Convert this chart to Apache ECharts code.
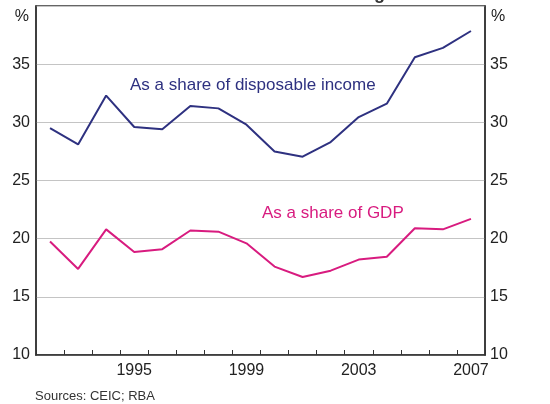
<!DOCTYPE html>
<html>
<head>
<meta charset="utf-8">
<script src="https://cdn.jsdelivr.net/npm/echarts@6/dist/echarts.min.js"></script>
<style>
  html, body { margin: 0; padding: 0; background: #fff; }
  #chart { width: 550px; height: 404px; }
</style>
</head>
<body>
<div id="chart"></div>
<script>
var years = ['1992', '1993', '1994', '1995', '1996', '1997', '1998', '1999',
             '2000', '2001', '2002', '2003', '2004', '2005', '2006', '2007'];
var shareOfIncome = [29.5, 28.1, 32.3, 29.6, 29.4, 31.4, 31.2, 29.8,
                     27.5, 27.05, 28.3, 30.45, 31.6, 35.6, 36.4, 37.85];
var shareOfGdp = [19.75, 17.4, 20.8, 18.85, 19.1, 20.7, 20.6, 19.6,
                  17.6, 16.7, 17.25, 18.2, 18.45, 20.9, 20.8, 21.7];
var yTicks = [10, 15, 20, 25, 30, 35];

var font = '"Liberation Sans", Arial, sans-serif';
var navy = '#2e3180';
var magenta = '#d81b7f';

var myChart = echarts.init(document.getElementById('chart'));

function yAxisFor(side) {
    return {
        type: 'value',
        position: side,
        min: 10,
        max: 40,
        interval: 5,
        axisLine: { show: true, lineStyle: { color: '#333', width: 1.5 } },
        axisTick: { show: false },
        splitLine: { show: side === 'left', lineStyle: { color: '#c4c4c4', width: 1 } },
        axisLabel: {
            color: '#222',
            fontFamily: font,
            fontSize: 16,
            margin: side === 'left' ? 6 : 5,
            formatter: function (v) {
                return yTicks.indexOf(v) >= 0 ? String(v) : '';
            }
        }
    };
}

var option = {
    animation: false,
    grid: {
        left: 36, right: 65, top: 6, bottom: 49,
        show: true,
        borderColor: '#333',
        borderWidth: 1.5
    },
    xAxis: {
        type: 'category',
        data: years,
        boundaryGap: true,
        axisLine: { show: true, lineStyle: { color: '#333', width: 1.5 } },
        axisTick: {
            show: true,
            inside: true,
            length: 5,
            interval: 0,
            lineStyle: { color: '#333', width: 1 }
        },
        axisLabel: {
            color: '#222',
            fontFamily: font,
            fontSize: 16,
            margin: 8,
            interval: function (idx) { return idx % 4 === 3; }
        },
        splitLine: { show: false }
    },
    yAxis: [yAxisFor('left'), yAxisFor('right')],
    series: [
        {
            name: 'As a share of disposable income',
            type: 'line',
            data: shareOfIncome,
            symbol: 'none',
            lineStyle: { color: navy, width: 2 }
        },
        {
            name: 'As a share of GDP',
            type: 'line',
            data: shareOfGdp,
            symbol: 'none',
            lineStyle: { color: magenta, width: 2 }
        }
    ],
    graphic: [
        { type: 'text', left: 374, top: -15,
          style: { text: 'g', fill: '#333', font: 'bold 18px ' + font } },
        { type: 'text', right: 521, top: 9,
          style: { text: '%', fill: '#222', font: '16px ' + font, textAlign: 'right' } },
        { type: 'text', left: 491, top: 9,
          style: { text: '%', fill: '#222', font: '16px ' + font } },
        { type: 'text', left: 130, top: 77,
          style: { text: 'As a share of disposable income', fill: navy, font: '17px ' + font } },
        { type: 'text', left: 262, top: 205,
          style: { text: 'As a share of GDP', fill: magenta, font: '17px ' + font } },
        { type: 'text', left: 35, top: 390,
          style: { text: 'Sources: CEIC; RBA', fill: '#333', font: '13px ' + font } }
    ]
};

myChart.setOption(option);
</script>
</body>
</html>
